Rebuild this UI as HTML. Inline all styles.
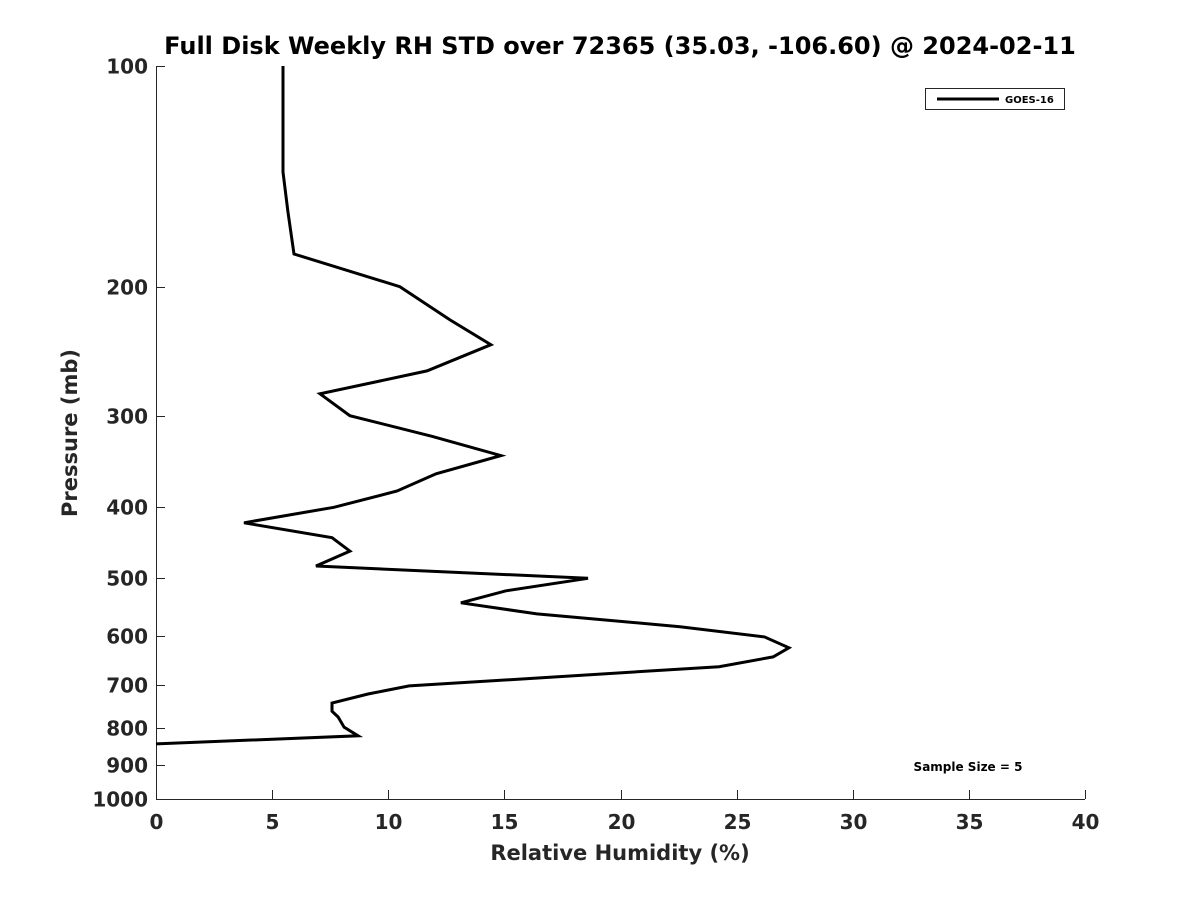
<!DOCTYPE html>
<html><head><meta charset="utf-8"><style>
html,body{margin:0;padding:0;background:#fff;}
svg{display:block;font-family:"DejaVu Sans","Liberation Sans",sans-serif;}
</style></head><body>
<svg id="chart" width="1200" height="900" xmlns="http://www.w3.org/2000/svg">
<rect width="1200" height="900" fill="#fff"/>
<text x="620" y="54" text-anchor="middle" font-size="24" font-weight="bold" fill="#000">Full Disk Weekly RH STD over 72365 (35.03, -106.60) @ 2024-02-11</text>
<g id="axes"></g>
<g id="series"></g>
<text x="620" y="860" text-anchor="middle" font-size="21" font-weight="bold" fill="#262626">Relative Humidity (%)</text>
<text transform="translate(77,433) rotate(-90)" text-anchor="middle" font-size="21" font-weight="bold" fill="#262626">Pressure (mb)</text>
<g>
<rect x="925.5" y="88.5" width="139" height="21" fill="#fff" stroke="#262626" stroke-width="1"/>
<line x1="937" y1="99" x2="999" y2="99" stroke="#000" stroke-width="3"/>
<text x="1005" y="103" font-size="10" font-weight="bold" fill="#000">GOES-16</text>
</g>
<text x="968" y="771" text-anchor="middle" font-size="12" font-weight="bold" fill="#000">Sample Size = 5</text>
</svg>
<script>
const xTicks = [0,5,10,15,20,25,30,35,40];
const yTicks = [100,200,300,400,500,600,700,800,900,1000];
const rhValues = [5.47,5.47,5.68,5.94,10.5,12.66,14.42,11.67,7.06,8.35,11.88,14.85,12.06,10.38,7.66,3.79,7.58,8.35,6.89,18.6,15.07,13.13,16.4,22.56,26.2,27.25,26.57,24.24,16.36,10.9,9.13,7.58,7.58,7.84,8.1,8.7,0];
const pressures = [100,139.5,158,180.5,200,222,240,260.6,280,300,320,340,360,380,400,420,440,459,481,500,520,540,559,582,601,622,640,660,684,701,719,740,759,773,798,820,841];

const X0=156,X1=1085,Y0=66,Y1=799;
function xs(v){return X0+(v-0)/(40-0)*(X1-X0);}
function ys(p){return Y0+(Math.log10(p)-2)/(3-2)*(Y1-Y0);}
const NS="http://www.w3.org/2000/svg";
const axes=document.getElementById('axes');
function mk(tag,attrs,parent){const e=document.createElementNS(NS,tag);for(const k in attrs)e.setAttribute(k,attrs[k]);parent.appendChild(e);return e;}

let l=mk('line',{x1:X0,y1:Y1+0.5,x2:X1,y2:Y1+0.5,stroke:'#262626','stroke-width':1},axes);


l=mk('line',{x1:X0+0.5,y1:Y0,x2:X0+0.5,y2:Y1,stroke:'#262626','stroke-width':1},axes);



xTicks.forEach(t=>{
  const x=Math.round(xs(t))+0.5;
  const tk=mk('line',{x1:x,y1:Y1,x2:x,y2:Y1-9,stroke:'#262626','stroke-width':1},axes);
  
  
  const tx=mk('text',{x:x,y:Y1+30,'text-anchor':'middle','font-size':20,'font-weight':'bold',fill:'#262626'},axes);
  tx.textContent=t;
  
  
});
yTicks.forEach(t=>{
  const y=Math.round(ys(t))+0.5;
  const tk=mk('line',{x1:X0,y1:y,x2:X0+9,y2:y,stroke:'#262626','stroke-width':1},axes);
  
  
  const tx=mk('text',{x:148,y:y+7,'text-anchor':'end','font-size':20,'font-weight':'bold',fill:'#262626'},axes);
  tx.textContent=t;
  
  
});

const series=document.getElementById('series');
const pts=rhValues.map((v,i)=>xs(v).toFixed(1)+','+ys(pressures[i]).toFixed(1)).join(' ');
const pl=mk('polyline',{points:pts,fill:'none',stroke:'#000','stroke-width':3,'stroke-linejoin':'miter'},series);


</script>
</body></html>
